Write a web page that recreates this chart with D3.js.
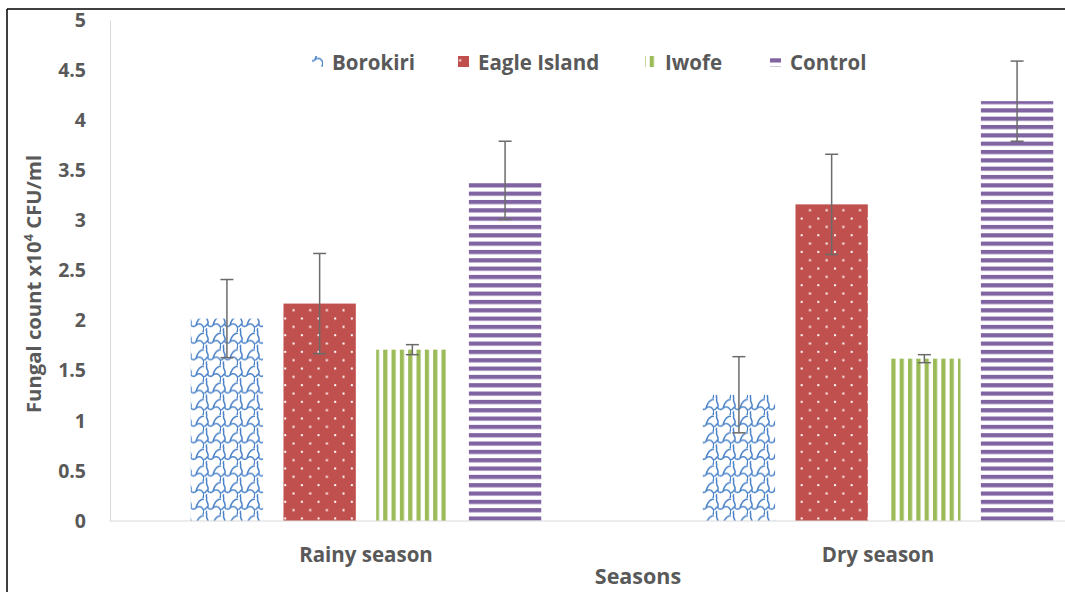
<!DOCTYPE html>
<html>
<head>
<meta charset="utf-8">
<script src="https://cdn.jsdelivr.net/npm/d3@7/dist/d3.min.js"></script>
<style>
  html, body { margin: 0; padding: 0; background: #fff; }
  svg { display: block; }
  text { font-family: "Open Sans", "Lato", sans-serif; font-weight: bold; fill: #595959; }
</style>
</head>
<body>
<svg id="chart" width="1065" height="592"></svg>
<script>
// Fungal counts per sampling site and season (x10^4 CFU/ml)
const seasons = ["Rainy season", "Dry season"];
const sites = ["Borokiri", "Eagle Island", "Iwofe", "Control"];
const rainyMeans = [2.02, 2.17, 1.71, 3.40];
const dryMeans   = [1.26, 3.16, 1.62, 4.19];
const rainyErr   = [0.39, 0.50, 0.05, 0.39];
const dryErr     = [0.38, 0.50, 0.04, 0.40];
const yTicks = [0, 0.5, 1, 1.5, 2, 2.5, 3, 3.5, 4, 4.5, 5];

const rows = [];
seasons.forEach((s, i) => {
  const means = i === 0 ? rainyMeans : dryMeans;
  const errs = i === 0 ? rainyErr : dryErr;
  sites.forEach((site, j) => rows.push({ season: s, site, idx: j, value: means[j], err: errs[j] }));
});

const svg = d3.select("#chart");
const plotLeft = 110, plotTop = 20, plotBottom = 521;

const x0 = d3.scaleBand().domain(seasons).range([plotLeft, plotLeft + 1024]);
const x1 = d3.scaleBand().domain(sites).range([0, x0.bandwidth()])
  .paddingInner(0.22).paddingOuter(0.871);
const y = d3.scaleLinear().domain([0, 5]).range([plotBottom, plotTop]);

// Fill patterns for each site
const defs = svg.append("defs");
const P = 8.33;

// Borokiri: blue shingle
const sw = 17, sh = 16.6;
const shingle = defs.append("pattern").attr("id", "pat-0")
  .attr("patternUnits", "userSpaceOnUse").attr("width", sw).attr("height", sh);
shingle.append("rect").attr("width", sw).attr("height", sh).attr("fill", "#fff");
shingle.append("path")
  .attr("d", "M3,0 C1,3 5,5 4,8 C3,11 7,12 9,10 C11,8 14,8 16,11 M4,8 C2,10 1,12 0,11 M3,16.6 C2,15 2,14 3,13 M16,11 C17,12 17,14 16,16.6 M9,10 C10,6 12,3 14,2 C15,1 17,1 17,2")
  .attr("fill", "none").attr("stroke", "#4a82c8").attr("stroke-width", 1.5);

// Eagle Island: red with staggered white dots
const dots = defs.append("pattern").attr("id", "pat-1")
  .attr("patternUnits", "userSpaceOnUse").attr("width", 2 * P).attr("height", 2 * P);
dots.append("rect").attr("width", 2 * P).attr("height", 2 * P).attr("fill", "#c0504d");
dots.append("rect").attr("x", 1).attr("y", 1).attr("width", 2).attr("height", 2).attr("fill", "#fff");
dots.append("rect").attr("x", 1 + P).attr("y", 1 + P).attr("width", 2).attr("height", 2).attr("fill", "#fff");

// Iwofe: green vertical stripes
const vstripe = defs.append("pattern").attr("id", "pat-2")
  .attr("patternUnits", "userSpaceOnUse").attr("width", P).attr("height", P);
vstripe.append("rect").attr("width", P).attr("height", P).attr("fill", "#fff");
vstripe.append("rect").attr("x", 0).attr("width", 4.2).attr("height", P).attr("fill", "#9bbb59");

// Control: purple horizontal stripes
const hstripe = defs.append("pattern").attr("id", "pat-3")
  .attr("patternUnits", "userSpaceOnUse").attr("width", P).attr("height", P);
hstripe.append("rect").attr("width", P).attr("height", P).attr("fill", "#fff");
hstripe.append("rect").attr("y", 0).attr("width", P).attr("height", 4.2).attr("fill", "#8064a2");

const patUrl = i => `url(#pat-${i})`;

// Frame lines (left and top)
svg.append("line").attr("x1", 7).attr("x2", 7).attr("y1", 9).attr("y2", 592)
  .attr("stroke", "#000").attr("stroke-width", 1.5);
svg.append("line").attr("x1", 7).attr("x2", 1065).attr("y1", 9).attr("y2", 9)
  .attr("stroke", "#000").attr("stroke-width", 1.5);

// Y axis
const yAxis = svg.append("g").attr("transform", `translate(${plotLeft},0)`)
  .call(d3.axisLeft(y).tickValues(yTicks).tickSize(0).tickPadding(24).tickFormat(d3.format("~g")));
yAxis.select(".domain").attr("stroke", "#d9d9d9").attr("stroke-width", 1);
yAxis.selectAll("text").style("font-size", "19.5px").style("font-family", "Open Sans").style("font-weight", "bold").attr("fill", "#595959");

// Bars
const barG = svg.append("g");
barG.selectAll("rect").data(rows).join("rect")
  .attr("x", d => x0(d.season) + x1(d.site))
  .attr("y", d => y(d.value))
  .attr("width", x1.bandwidth())
  .attr("height", d => y(0) - y(d.value))
  .attr("fill", d => patUrl(d.idx));

// Baseline
svg.append("line").attr("x1", plotLeft).attr("x2", 1065).attr("y1", y(0)).attr("y2", y(0))
  .attr("stroke", "#d9d9d9").attr("stroke-width", 1.2);

// Error bars
const errG = svg.append("g").attr("stroke", "#6b6b6b").attr("stroke-width", 1.5);
rows.forEach(d => {
  const cx = x0(d.season) + x1(d.site) + x1.bandwidth() / 2;
  errG.append("line").attr("x1", cx).attr("x2", cx).attr("y1", y(d.value + d.err)).attr("y2", y(d.value - d.err));
  [d.value + d.err, d.value - d.err].forEach(v =>
    errG.append("line").attr("x1", cx - 6.5).attr("x2", cx + 6.5).attr("y1", y(v)).attr("y2", y(v)));
});

// Category labels
seasons.forEach(s => {
  svg.append("text").attr("x", x0(s) + x0.bandwidth() / 2).attr("y", 562)
    .attr("text-anchor", "middle").style("font-size", "20.5px").text(s);
});

// Axis titles
svg.append("text").attr("x", 638).attr("y", 584).attr("text-anchor", "middle")
  .style("font-size", "21.5px").text("Seasons");

const yt = svg.append("text").attr("transform", "translate(41,284) rotate(-90)")
  .attr("text-anchor", "middle").style("font-size", "20.3px");
yt.append("tspan").text("Fungal count x10");
yt.append("tspan").attr("dy", -8).style("font-size", "13px").text("4");
yt.append("tspan").attr("dy", 8).text(" CFU/ml");

// Legend
const legendX = [312, 458, 645, 770];
const legend = svg.append("g");
sites.forEach((s, i) => {
  legend.append("rect").attr("x", legendX[i]).attr("y", 56).attr("width", 11).attr("height", 11)
    .attr("fill", patUrl(i));
  legend.append("text").attr("x", legendX[i] + 20).attr("y", 69.5).style("font-size", "20.5px").text(s);
});
</script>
</body>
</html>
